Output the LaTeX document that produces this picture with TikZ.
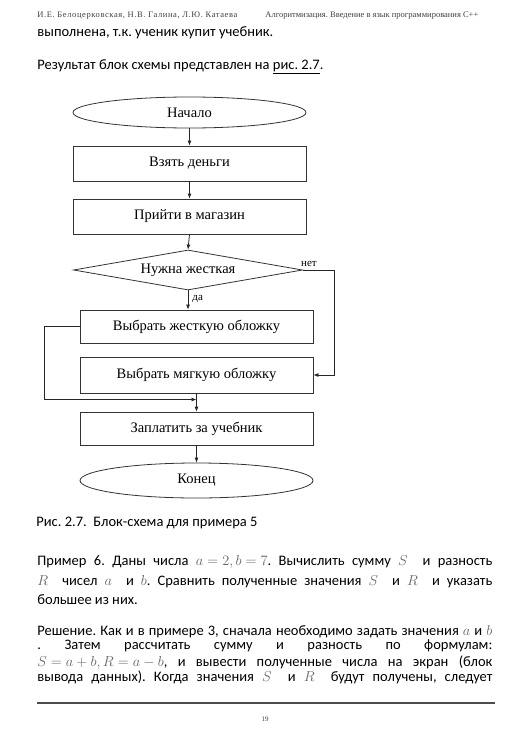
\documentclass[tikz,border=0pt]{standalone}
\usepackage[no-math]{fontspec}
\setmainfont{Carlito}
\newfontfamily\serifface{Liberation Serif}
\newfontfamily\authorface[LetterSpace=7]{Liberation Serif}
\usepackage{xcolor}
\usetikzlibrary{arrows.meta,shapes.geometric,positioning}
\frenchspacing
% math in the running text
\newcommand{\mth}[1]{\mbox{\color{black!60}\fontsize{15}{15}\selectfont$#1$}}
\tikzset{
  block/.style={draw=black!80, rectangle, minimum width=233pt, inner sep=0pt,
    font=\serifface\fontsize{14.5}{14.5}\selectfont},
  term/.style={draw=black!80, ellipse, minimum width=233pt, inner sep=0pt,
    font=\serifface\fontsize{14.5}{14.5}\selectfont},
  decision/.style={draw=black!80, diamond, aspect=5.7, minimum width=229pt,
    minimum height=40pt, inner sep=0pt, font=\serifface\fontsize{14.5}{14.5}\selectfont},
  flow/.style={-{Latex[length=5pt,width=4pt]}, draw=black!85},
  lbl/.style={inner sep=0pt, font=\serifface\fontsize{11}{11}\selectfont},
  textline/.style={anchor=base west, inner sep=0pt, text height=10pt, text depth=3pt,
    font=\fontsize{14.5}{14.5}\selectfont},
  headline/.style={anchor=base west, inner sep=0pt, text=black!75,
    font=\serifface\fontsize{8.5}{8.5}\selectfont},
}

\begin{document}
\begin{tikzpicture}[x=1pt,y=-1pt,line width=0.8pt]
\useasboundingbox (0,0) rectangle (520,736);
\fill[white] (0,0) rectangle (520,736);
% Page header
\node[headline] (authors) at (37,17) {\authorface И.Е. Белоцерковская, Н.В. Галина, Л.Ю. Катаева};
\node[headline] (book) at (265,17) {Алгоритмизация. Введение в язык программирования C++};
% Text above the figure
\node[textline] (prev) at (37,36) {выполнена, т.к. ученик купит учебник.};
\node[textline] (ref) at (37,69) {Результат блок схемы представлен на \underline{рис. 2.7}.};
% Flowchart
\node[term] (start) at (189.5,112.5) [minimum height=31pt] {Начало};
\node[block] (money) at (189.5,163.5) [minimum height=35pt] {Взять деньги};
\node[block] (shop) at (189.5,216.5) [minimum height=35pt] {Прийти в магазин};
\node[decision] (hard) at (188,270) {Нужна жесткая};
\node[block] (hardcover) at (196.5,326.5) [minimum height=33pt] {Выбрать жесткую обложку};
\node[block] (softcover) at (196.5,375) [minimum height=36pt] {Выбрать мягкую обложку};
\node[block] (pay) at (196.5,428.5) [minimum height=33pt] {Заплатить за учебник};
\node[term] (stop) at (196.5,480.5) [minimum height=35pt] {Конец};
\coordinate (turnR) at (334,375);
\coordinate (merge) at (196.5,399.5);
% Connectors
\draw[flow] (start) -- (money);
\draw[flow] (money) -- (shop);
\draw[flow] (shop.south) -- (hard.north);
\draw[flow] (hard.south) -- (hard.south |- hardcover.north) node[lbl, pos=0.45, right=4pt] (yes) {да};
\draw[flow] (hard.east) -| (turnR) -- (softcover.east);
\node[lbl, anchor=south] (no) at (309,267) {нет};
\draw[flow] (hardcover.west) -- ++(-35,0) |- (merge);
\draw[flow] (softcover.south) -- (pay.north);
\draw[flow] (pay) -- (stop);
% Caption
\node[textline] (caption) at (36,526) {Рис. 2.7.\ \ Блок-схема для примера 5};
% Example 6
\node[textline] (ex1) at (37,565) {\makebox[455pt][s]{Пример 6. Даны числа \mth{a=2,b=7}. Вычислить сумму \mth{S}\ \ и разность}};
\node[textline] (ex2) at (37,585) {\makebox[455pt][s]{\mth{R}\ \ чисел \mth{a}\ \ и \mth{b}. Сравнить полученные значения \mth{S}\ \ и \mth{R}\ \ и указать}};
\node[textline] (ex3) at (37,604) {большее из них.};
% Solution
\node[textline] (sol1) at (37,635) {\makebox[455pt][s]{Решение. Как и в примере 3, сначала необходимо задать значения \mth{a}\ и \mth{b}}};
\node[textline] (sol2) at (37,649) {\makebox[455pt][s]{. Затем рассчитать сумму и разность по формулам:}};
\node[textline] (sol3) at (37,666) {\makebox[455pt][s]{\mth{S=a+b,R=a-b}, и вывести полученные числа на экран (блок}};
\node[textline] (sol4) at (37,681) {\makebox[455pt][s]{вывода данных). Когда значения \mth{S}\ \ и \mth{R}\ \ будут получены, следует}};
% Footer
\draw[black!70, line width=1.2pt] (37,703) -- (495,703);
\node[headline, anchor=base] (page) at (265,721) {\fontsize{7}{7}\selectfont 19};
\end{tikzpicture}
\end{document}
